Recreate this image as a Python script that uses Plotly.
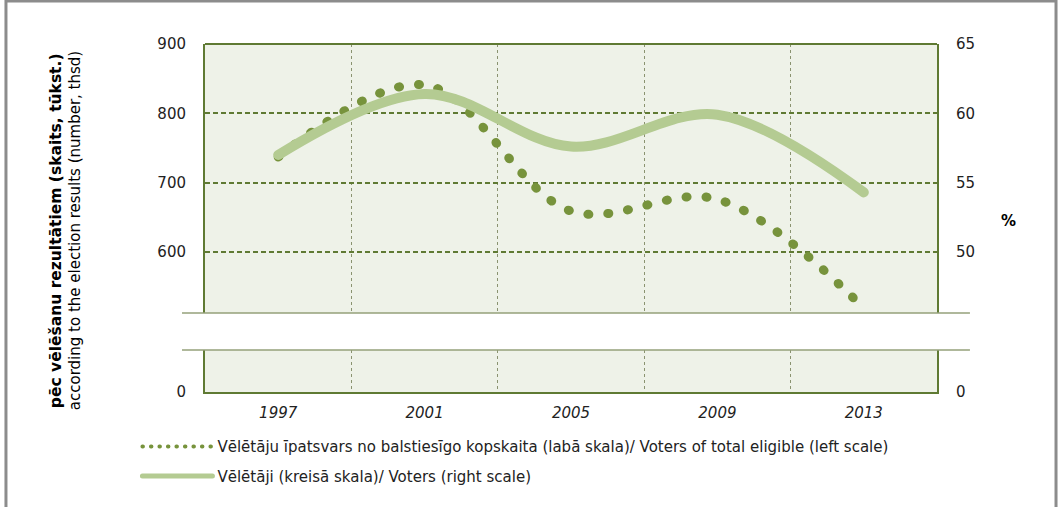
import plotly.graph_objects as go

# Dati
gadi = [1997, 2001, 2005, 2009, 2013]
veletaji_tukst = [737, 841, 659, 676, 519]      # punktotā līnija, kreisā ass
veletaji_proc = [57.0, 61.4, 57.6, 59.9, 54.3]  # nepārtrauktā līnija, labā ass

nosaukums_punkti = "Vēlētāju īpatsvars no balstiesīgo kopskaita (labā skala)/ Voters of total eligible (left scale)"
nosaukums_linija = "Vēlētāji (kreisā skala)/ Voters (right scale)"

_FONT = "DejaVu Sans"
_TUMSI_ZALS = "#5f7a33"
_PUNKTI = "#77933c"
_LINIJA = "#b4cb92"
_FONS = "#eef2e8"

# lauzuma robežas (paper koordinātās)
_AUGSA = 0.227
_APAKSA = 0.1207

fig = go.Figure()
fig.add_trace(
    go.Scatter(
        x=gadi,
        y=veletaji_tukst,
        name=nosaukums_punkti,
        mode="lines",
        line=dict(color=_PUNKTI, width=9, dash="1px,19px", shape="spline", smoothing=1),
        legendgroup="a",
        yaxis="y",
    )
)
fig.add_trace(
    go.Scatter(
        x=gadi,
        y=veletaji_proc,
        name=nosaukums_linija,
        mode="lines",
        line=dict(color=_LINIJA, width=10, shape="spline", smoothing=1),
        legendgroup="b",
        yaxis="y2",
    )
)
# tukšas līnijas, lai apakšējā (lauztās ass) daļa tiktu uzzīmēta
for ass in ("y3", "y4"):
    fig.add_trace(go.Scatter(x=[None], y=[None], yaxis=ass, showlegend=False, hoverinfo="skip"))

ass_teksts = dict(family=_FONT, size=15, color="#222222")

fig.update_layout(
    width=1059,
    height=507,
    paper_bgcolor="white",
    plot_bgcolor=_FONS,
    margin=dict(l=205, r=122, t=44, b=115),
    font=dict(family=_FONT, size=15, color="#222222"),
    xaxis=dict(
        range=[1995, 2015],
        tickvals=gadi,
        ticktext=[f"<i>{g}</i>" for g in gadi],
        showgrid=False,
        zeroline=False,
        showline=True,
        linecolor=_TUMSI_ZALS,
        linewidth=2,
        ticks="",
        ticklabelstandoff=6,
        tickfont=ass_teksts,
        anchor="y3",
        minor=dict(
            tickvals=[1999, 2003, 2007, 2011],
            showgrid=True,
            gridcolor="#8a9370",
            gridwidth=1,
            griddash="dot",
            ticks="",
        ),
    ),
    yaxis=dict(
        domain=[_AUGSA, 1],
        range=[512, 900],
        dtick=100,
        showgrid=True,
        gridcolor=_TUMSI_ZALS,
        gridwidth=2,
        griddash="5px,3px",
        zeroline=False,
        showline=True,
        linecolor=_TUMSI_ZALS,
        linewidth=2,
        ticks="",
        ticklabelstandoff=14,
        tickfont=ass_teksts,
        anchor="x",
    ),
    yaxis2=dict(
        overlaying="y",
        side="right",
        range=[45.6, 65],
        dtick=5,
        showgrid=False,
        zeroline=False,
        showline=True,
        linecolor=_TUMSI_ZALS,
        linewidth=2,
        ticks="",
        ticklabelstandoff=14,
        tickfont=ass_teksts,
        anchor="x",
    ),
    yaxis3=dict(
        domain=[0, _APAKSA],
        range=[0, 100],
        tickvals=[0],
        showgrid=False,
        zeroline=False,
        showline=True,
        linecolor=_TUMSI_ZALS,
        linewidth=2,
        ticks="",
        ticklabelstandoff=14,
        tickfont=ass_teksts,
        anchor="x",
    ),
    yaxis4=dict(
        overlaying="y3",
        side="right",
        range=[0, 100],
        tickvals=[0],
        showgrid=False,
        zeroline=False,
        showline=True,
        linecolor=_TUMSI_ZALS,
        linewidth=2,
        ticks="",
        ticklabelstandoff=14,
        tickfont=ass_teksts,
        anchor="x",
    ),
    legend=dict(
        x=-0.0923,
        y=-0.11,
        xanchor="left",
        yanchor="top",
        traceorder="grouped",
        tracegroupgap=7,
        itemwidth=70,
        font=dict(family=_FONT, size=15, color="#222222"),
        bgcolor="rgba(0,0,0,0)",
    ),
    showlegend=True,
)

# Lauzuma līnijas, augšējā mala un rāmis
fig.add_shape(type="line", xref="paper", yref="paper", x0=0, x1=1, y0=1, y1=1,
              line=dict(color=_TUMSI_ZALS, width=2))
for yy in (_AUGSA, _APAKSA):
    fig.add_shape(type="line", xref="paper", yref="paper", x0=-0.0314, x1=1.045, y0=yy, y1=yy,
                  line=dict(color="#94a17a", width=1.5))
fig.add_shape(type="rect", xref="paper", yref="paper", x0=-0.2719, x1=1.1626, y0=-0.4, y1=1.1236,
              line=dict(color="#8c8c8c", width=3), fillcolor="rgba(0,0,0,0)", layer="above")

# Asu nosaukumi
fig.add_annotation(
    text="<b>pēc vēlēšanu rezultātiem (skaits, tūkst.)</b>",
    xref="paper", yref="paper", x=-0.2036, y=0.465, textangle=-90,
    showarrow=False, xanchor="center", yanchor="middle",
    font=dict(family=_FONT, size=15.5, color="#000000"),
)
fig.add_annotation(
    text="according to the election results (number, thsd)",
    xref="paper", yref="paper", x=-0.1776, y=0.465, textangle=-90,
    showarrow=False, xanchor="center", yanchor="middle",
    font=dict(family=_FONT, size=15, color="#000000"),
)
fig.add_annotation(
    text="<b>%</b>",
    xref="paper", yref="paper", x=1.097, y=0.491,
    showarrow=False, xanchor="center", yanchor="middle",
    font=dict(family=_FONT, size=15, color="#000000"),
)

# lapas malas nost; noapaļoti līniju gali, lai punktotā līnija izskatās kā punkti;
# leģendas paraugi plānāki
skripts = """
document.body.style.margin = '0';
document.querySelectorAll('.scatterlayer path.js-line').forEach(function (p) {
    p.style.strokeLinecap = 'round';
});
document.querySelectorAll('.legend path.js-line').forEach(function (p) {
    p.style.strokeLinecap = 'round';
    if (p.style.strokeDasharray && p.style.strokeDasharray !== 'none') {
        p.style.strokeWidth = '4px';
        p.style.strokeDasharray = '0.5px,8px';
    } else {
        p.style.strokeWidth = '5px';
    }
});
"""

fig.write_html("out.html", post_script=skripts, config={"displayModeBar": False})
